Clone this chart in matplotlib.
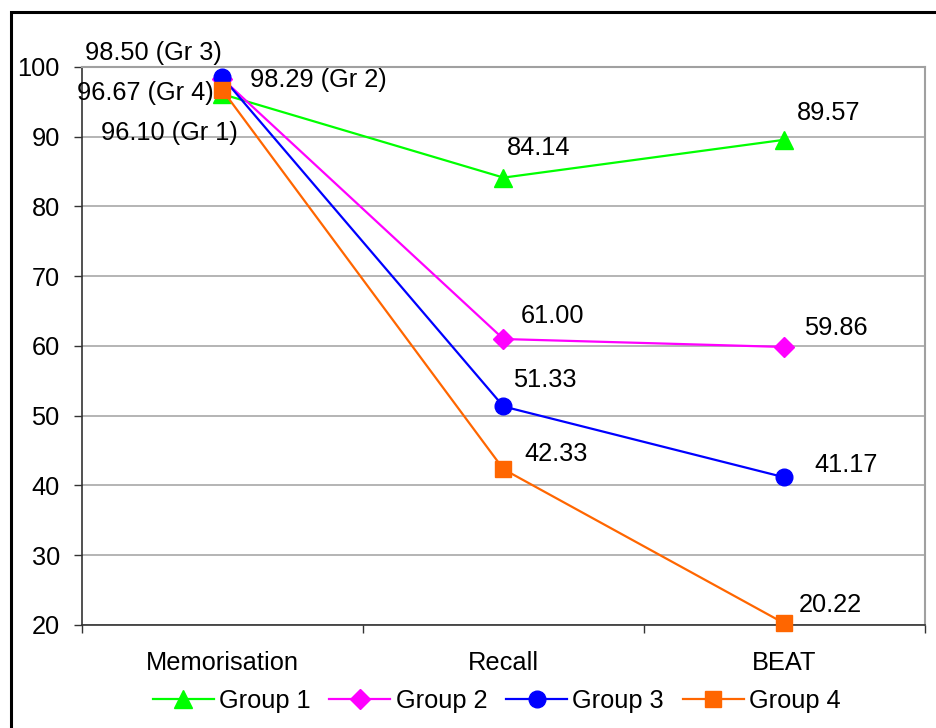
import numpy as np
import matplotlib
matplotlib.use("Agg")
import matplotlib.pyplot as plt
from matplotlib.patches import Rectangle

plt.rcParams['font.family'] = ['Liberation Sans', 'DejaVu Sans']

stages = ['Memorisation', 'Recall', 'BEAT']
groups = ['Group 1', 'Group 2', 'Group 3', 'Group 4']
group1 = [96.10, 84.14, 89.57]
group2 = [98.29, 61.00, 59.86]
group3 = [98.50, 51.33, 41.17]
group4 = [96.67, 42.33, 20.22]

series = [group1, group2, group3, group4]
colors = ['#00ff00', '#ff00ff', '#0000ff', '#ff6600']
markers = ['^', 'D', 'o', 's']
msizes = [13, 10, 12, 12]
fs = 18.3

# label offsets in pixels (dx, dy) and horizontal alignment, per series per stage
label_pos = [
    [(15, -39, 'right'), (3, 30, 'left'), (12, 27, 'left')],
    [(28, -1, 'left'), (17, 23, 'left'), (20, 19, 'left')],
    [(-1, 24, 'right'), (10, 26, 'left'), (30, 12, 'left')],
    [(-9, -3, 'right'), (21, 15, 'left'), (14, 18, 'left')],
]

fig = plt.figure(figsize=(9.37, 7.28), dpi=100)
ax = fig.add_axes([82 / 937, 1 - 625 / 728, (925 - 82) / 937, (625 - 67) / 728])

x = np.arange(len(stages))
handles = []
for i, vals in enumerate(series):
    h, = ax.plot(x, vals, color=colors[i], marker=markers[i], ms=msizes[i],
                 lw=1.6, label=groups[i], zorder=3, clip_on=False)
    handles.append(h)
    for j, v in enumerate(vals):
        dx, dy, ha = label_pos[i][j]
        txt = '%.2f' % v
        if j == 0:
            txt += ' (Gr %d)' % (i + 1)
        ax.annotate(txt, (x[j], v), xytext=(dx, dy), textcoords='offset pixels',
                    ha=ha, va='center', fontsize=fs, zorder=4)

ax.set_xlim(-0.5, 2.5)
ax.set_ylim(20, 100)
ax.set_yticks(np.arange(20, 101, 10))
ax.yaxis.grid(True, color='#a0a0a0', lw=1.1)
ax.set_axisbelow(True)

ax.set_xticks(x)
ax.set_xticklabels(stages)
ax.set_xticks([-0.5, 0.5, 1.5, 2.5], minor=True)
ax.tick_params(axis='x', which='major', length=0, pad=19, labelsize=fs)
ax.tick_params(axis='x', which='minor', length=6, width=1, color='#333333')
ax.tick_params(axis='y', length=6, width=1, pad=10, labelsize=fs, color='#333333')

for side in ['top', 'right']:
    ax.spines[side].set_color('#a0a0a0')
    ax.spines[side].set_linewidth(1.5)
for side in ['left', 'bottom']:
    ax.spines[side].set_color('#333333')
    ax.spines[side].set_linewidth(1.2)

fig.legend(handles=handles, loc='center', bbox_to_anchor=(0.530, 1 - 701 / 728),
           ncol=4, frameon=False, fontsize=fs, numpoints=1,
           handlelength=2.4, handletextpad=0.2, columnspacing=0.75)

# outer frame around the chart
fig.patches.append(Rectangle((11.5 / 937, -0.5), 2, 0.5 + (1 - 11.5 / 728),
                             transform=fig.transFigure, fill=False,
                             ec='black', lw=2.2))

fig.savefig('out.png', dpi=100)
